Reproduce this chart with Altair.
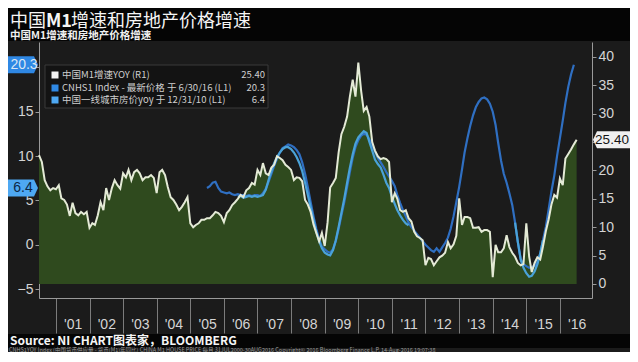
import altair as alt
import pandas as pd

# ---------------- data ----------------
# China M1 YoY (%), monthly, Jul 2000 - Jul 2016 (right axis)
m1_2000 = [22.7, 21.5, 18.3, 17.2, 16.5, 16.9]
m1_2001 = [16.7, 17.4, 15.1, 14.8, 14.0, 12.0, 14.3, 12.5, 12.1, 12.7, 12.3, 12.7]
m1_2002 = [9.9, 10.7, 10.4, 12.1, 14.4, 13.0, 16.9, 14.8, 16.9, 18.3, 17.4, 16.8]
m1_2003 = [19.5, 18.8, 20.1, 18.3, 19.7, 20.1, 19.5, 18.3, 18.8, 18.8, 19.2, 18.7]
m1_2004 = [16.0, 19.7, 20.1, 19.2, 17.1, 15.3, 14.8, 14.0, 13.0, 13.6, 14.4, 15.3]
m1_2005 = [10.7, 10.0, 10.4, 10.7, 11.3, 11.3, 11.6, 11.6, 12.1, 12.7, 12.5, 12.0]
m1_2006 = [10.9, 12.5, 13.0, 13.9, 14.4, 15.0, 15.7, 15.3, 16.5, 16.9, 17.8, 17.5]
m1_2007 = [20.1, 19.2, 21.3, 19.5, 19.2, 20.5, 21.0, 22.5, 22.2, 21.8, 21.0, 20.6]
m1_2008 = [20.1, 18.3, 18.8, 18.7, 18.1, 14.8, 14.0, 12.7, 10.5, 9.0, 7.5, 9.0]
m1_2009 = [6.7, 10.9, 17.0, 17.8, 18.7, 23.2, 26.4, 27.7, 29.5, 33.0, 36.0, 33.0]
m1_2010 = [39.0, 34.0, 30.5, 31.2, 29.5, 25.0, 23.5, 22.5, 22.0, 22.2, 22.0, 21.5]
m1_2011 = [14.4, 16.0, 15.0, 13.0, 12.7, 13.0, 11.6, 11.0, 9.2, 8.4, 8.1, 7.7]
m1_2012 = [3.3, 4.6, 4.4, 3.3, 4.0, 4.7, 5.0, 5.5, 7.4, 6.3, 7.0, 8.5]
m1_2013 = [15.1, 10.4, 11.8, 11.8, 11.6, 9.9, 9.9, 10.0, 9.2, 9.5, 9.5, 9.2]
m1_2014 = [1.2, 6.9, 5.6, 5.6, 6.3, 8.6, 6.5, 5.5, 4.8, 3.7, 3.3, 3.5]
m1_2015 = [10.7, 4.8, 2.1, 3.7, 4.7, 4.3, 6.6, 9.3, 11.4, 14.0, 15.7, 15.2]
m1_2016 = [18.6, 17.4, 22.1, 22.9, 23.7, 24.6, 25.4]

# CNHS1 Index YoY (%), monthly, Jul 2005 - Jun 2016 (left axis)
cnhs_2005 = [6.4, 6.6, 7.0, 7.1, 6.4, 6.0]
cnhs_2006 = [5.9, 5.8, 5.9, 5.7, 5.6, 5.7, 5.6, 5.6, 5.5, 5.6, 5.5, 5.6]
cnhs_2007 = [5.6, 5.5, 5.8, 6.3, 7.1, 8.0, 8.9, 9.7, 10.4, 10.9, 11.1, 11.3]
cnhs_2008 = [11.2, 11.0, 10.7, 10.2, 9.3, 8.0, 6.5, 4.8, 3.2, 1.8, 0.6, -0.2]
cnhs_2009 = [-0.5, -0.8, -0.9, -0.5, 0.4, 1.8, 3.3, 4.8, 6.5, 8.2, 9.8, 11.0]
cnhs_2010 = [11.8, 12.3, 12.5, 12.4, 11.9, 11.2, 10.5, 9.8, 9.3, 8.8, 8.2, 7.7]
cnhs_2011 = [7.2, 6.6, 5.6, 4.7, 3.9, 3.2, 2.5, 2.0, 1.6, 1.2, 0.8, 0.4]
cnhs_2012 = [0.0, -0.3, -0.6, -0.8, -0.4, -0.8, -0.3, 0.2, 0.8, 1.8, 3.2, 4.8]
cnhs_2013 = [6.5, 8.5, 10.4, 12.0, 13.4, 14.6, 15.5, 16.1, 16.5, 16.6, 16.4, 15.9]
cnhs_2014 = [15.0, 13.5, 11.5, 9.5, 8.0, 7.0, 5.8, 4.5, 2.5, 0.3, -1.6, -2.2]
cnhs_2015 = [-2.4, -2.6, -2.5, -2.4, -2.0, -1.0, 0.5, 2.0, 4.0, 6.0, 7.8, 10.0]
cnhs_2016 = [12.0, 14.0, 16.0, 17.8, 19.2, 20.3]

# First-tier city house price YoY (%), visible stretches (left axis)
tier1_a = [5.4, 5.5, 5.3, 5.4, 5.5, 5.4, 5.5,                               # Jun-Dec 2006
           5.4, 5.5, 5.6, 6.2, 7.3, 8.3, 9.2, 9.9, 10.4, 10.8, 11.0, 11.0,  # 2007
           10.8, 10.4, 9.9, 9.2, 8.3, 7.0, 5.6, 4.2, 2.8, 1.5, 0.4, -0.4,   # 2008
           -0.9, -1.1, -1.2, -0.6, 0.5, 2.0, 3.6, 5.2, 7.0, 8.7, 10.2, 11.4, # 2009
           12.1, 12.5, 12.8, 12.6, 11.6, 10.6, 9.6, 9.1, 8.7, 7.9, 7.0, 6.4,  # 2010
           5.4, 4.6, 3.9, 3.3, 2.8, 2.4, 2.2]                                # Jan-Jul 2011
tier1_b = [2.5, 0.3, -1.7, -2.6, -3.2, -3.6, -3.5, -3.0, -2.2, -1.0, 0.5]   # Sep 2014 - Jul 2015

year_ticks = list(range(2001, 2017))
left_ticks = [-5, 0, 5, 10, 15, 20]
right_ticks = [0, 5, 10, 15, 20, 25, 30, 35, 40]

title_text = "中国M1增速和房地产价格增速"
legend_rows = ["中国M1增速YOY (R1)", "CNHS1 Index - 最新价格 于 6/30/16 (L1)", "中国一线城市房价yoy 于 12/31/10 (L1)"]
legend_vals = ["25.40", "20.3", "6.4"]
source_text = "Source: NI CHART图表家，BLOOMBERG"
footer_text = ("CNHS1YOY Index (中国货币供应量 - 货币(M1)年同比) CHINA M1 HOUSE PRICE  每月 31JUL2000-30AUG2016  "
               "Copyright© 2016 Bloomberg Finance L.P.  14-Aug-2016 19:07:38")

# ---------------- tables ----------------
m1_vals = (m1_2000 + m1_2001 + m1_2002 + m1_2003 + m1_2004 + m1_2005 + m1_2006 + m1_2007 +
           m1_2008 + m1_2009 + m1_2010 + m1_2011 + m1_2012 + m1_2013 + m1_2014 + m1_2015 + m1_2016)
m1_df = pd.DataFrame({"date": pd.date_range("2000-07-01", periods=len(m1_vals), freq="MS"), "v": m1_vals})

cnhs_vals = (cnhs_2005 + cnhs_2006 + cnhs_2007 + cnhs_2008 + cnhs_2009 + cnhs_2010 +
             cnhs_2011 + cnhs_2012 + cnhs_2013 + cnhs_2014 + cnhs_2015 + cnhs_2016)
cnhs_df = pd.DataFrame({"date": pd.date_range("2005-07-01", periods=len(cnhs_vals), freq="MS"), "v": cnhs_vals})

tier_df = pd.concat([
    pd.DataFrame({"date": pd.date_range("2006-06-01", periods=len(tier1_a), freq="MS"), "v": tier1_a, "seg": "a"}),
    pd.DataFrame({"date": pd.date_range("2014-09-01", periods=len(tier1_b), freq="MS"), "v": tier1_b, "seg": "b"}),
], ignore_index=True)

# ---------------- styling ----------------
W, H = 553, 256
BG = "#1b1b1b"
CJK = "Noto Sans CJK SC"
NUM = "Liberation Sans"
LBL = "#d4d4d4"
AX = "#9a9a9a"

xs = alt.Scale(domain=[alt.DateTime(year=2000, month=7, date=1), alt.DateTime(year=2016, month=12, date=15)])
Ls = alt.Scale(domain=[-6.0, 22.86], nice=False, zero=False)
Rs = alt.Scale(domain=[-2.47, 42.64], nice=False, zero=False)

x_axis = alt.Axis(values=[alt.DateTime(year=y, month=1, date=1) for y in year_ticks],
                  format="'%y", formatType="time", tickSize=35, tickColor="#7c7c7c",
                  domainColor=AX, labelColor=LBL, labelFont=NUM, labelFontSize=14,
                  labelOffset=16.8, labelPadding=-16, labelAlign="center", labelBaseline="top",
                  labelFlush=False, labelOverlap=False, grid=False, title=None)
# the 20 and 25 labels sit under the value tags in the reference
left_axis = alt.Axis(orient="left", values=left_ticks, tickSize=4, tickColor=AX, domainColor=AX,
                     labelColor=LBL, labelFont=NUM, labelFontSize=14, labelPadding=2,
                     labelExpr="datum.value == 20 ? '' : datum.label",
                     labelFlush=False, labelOverlap=False, grid=False, title=None)
right_axis = alt.Axis(orient="right", values=right_ticks, tickSize=4, tickColor=AX, domainColor=AX,
                      labelColor=LBL, labelFont=NUM, labelFontSize=14, labelPadding=2,
                      labelExpr="datum.value == 25 ? '' : datum.label",
                      labelFlush=False, labelOverlap=False, grid=False, title=None)

one = pd.DataFrame({"k": [0]})


def txt(s, x, y, size, color, weight="normal", font=CJK, align="left", baseline="alphabetic"):
    return alt.Chart(one).mark_text(text=s, align=align, baseline=baseline, fontSize=size, font=font,
                                    fontWeight=weight, color=color).encode(x=alt.value(x), y=alt.value(y))


def box(x, x2, y, y2, fill, stroke=None):
    kw = dict(fill=fill)
    if stroke:
        kw.update(stroke=stroke, strokeWidth=1)
    return alt.Chart(one).mark_rect(**kw).encode(x=alt.value(x), x2=alt.value(x2), y=alt.value(y), y2=alt.value(y2))


X_T = alt.X("date:T", scale=xs, axis=x_axis)

area = alt.Chart(m1_df).mark_area(color="#2f4a1e", opacity=1).encode(
    x=X_T, y=alt.Y("v:Q", scale=Rs, axis=None), y2=alt.datum(0))

dark = alt.Chart(cnhs_df).mark_line(color="#2f6fc2", strokeWidth=2.2).encode(
    x=X_T, y=alt.Y("v:Q", scale=Ls, axis=left_axis))

light = alt.Chart(tier_df).mark_line(color="#4aa2d8", strokeWidth=2.2).encode(
    x=X_T, y=alt.Y("v:Q", scale=Ls, axis=None), detail="seg:N")

white = alt.Chart(m1_df).mark_line(color="#e4ead6", strokeWidth=2).encode(
    x=X_T, y=alt.Y("v:Q", scale=Rs, axis=right_axis))

# value tags on the axes
TAG_R = "M-1,-0.447 L0.79,-0.447 L1,0 L0.79,0.447 L-1,0.447 Z"   # points right
TAG_L = "M1,-0.405 L-0.81,-0.405 L-1,0 L-0.81,0.405 L1,0.405 Z"  # points left


def tag(value, scale, shape, size, x, fill, tcolor, label, tx, fs=14):
    d = pd.DataFrame({"v": [value]})
    p = alt.Chart(d).mark_point(shape=shape, size=size, filled=True, fill=fill, opacity=1, strokeWidth=0).encode(
        x=alt.value(x), y=alt.Y("v:Q", scale=scale, axis=None))
    t = alt.Chart(d).mark_text(text=label, align="center", baseline="middle", font=NUM, fontSize=fs,
                               color=tcolor).encode(x=alt.value(tx), y=alt.Y("v:Q", scale=scale, axis=None))
    return [p, t]


tags = (tag(20.3, Ls, TAG_R, 1444, -20, "#2f88e4", "#dbe7f4", "20.3", -15)
        + tag(6.4, Ls, TAG_R, 1444, -20, "#4ea8f2", "#0c2746", "6.4", -16)
        + tag(25.40, Rs, TAG_L, 1764, 575, "#f0f0f0", "#151515", "25.40", 573, 13.5))

# legend
leg = [box(6, 229, 23, 66, "#131313", "#3a3a3a")]
sw_colors = ["#f2f2f2", "#2f88e4", "#4ea8f2"]
row_y = [33, 46, 58]
for i in range(3):
    leg.append(alt.Chart(one).mark_square(size=49, color=sw_colors[i], opacity=1).encode(
        x=alt.value(16), y=alt.value(row_y[i])))
    leg.append(txt(legend_rows[i], 23, row_y[i], 9.5, "#cfcfcf", baseline="middle"))
    leg.append(txt(legend_vals[i], 226, row_y[i], 9.5, "#cfcfcf", align="right", baseline="middle"))

# header / footer
header = [box(-31, 591, -34, -1, "#050505"),
          txt("中国", -29, -15.5, 18, "#f5f5f5"),
          txt("M1", 7, -15.5, 18, "#f5f5f5", weight="bold"),
          txt(title_text[4:], 32, -15.5, 18, "#f5f5f5"),
          txt(title_text, -29, -3.5, 10.5, "#f0f0f0", weight="bold")]
footer = [box(-31, 591, 292, 306, "#050505"),
          txt(source_text, -29, 303, 12, "#f5f5f5", weight="bold"),
          txt(footer_text, -30, 310, 5.5, "#9a9a9a")]

chart = alt.layer(
    *header, area, dark, light, white, *leg, *tags, *footer
).resolve_scale(y="independent").properties(
    width=W, height=H,
    autosize=alt.AutoSizeParams(type="none"),
    padding={"left": 31, "top": 34, "right": 38, "bottom": 54},
    background=BG,
).configure_view(stroke=None)

chart.save("out.html", embed_options={"renderer": "svg", "actions": False})
